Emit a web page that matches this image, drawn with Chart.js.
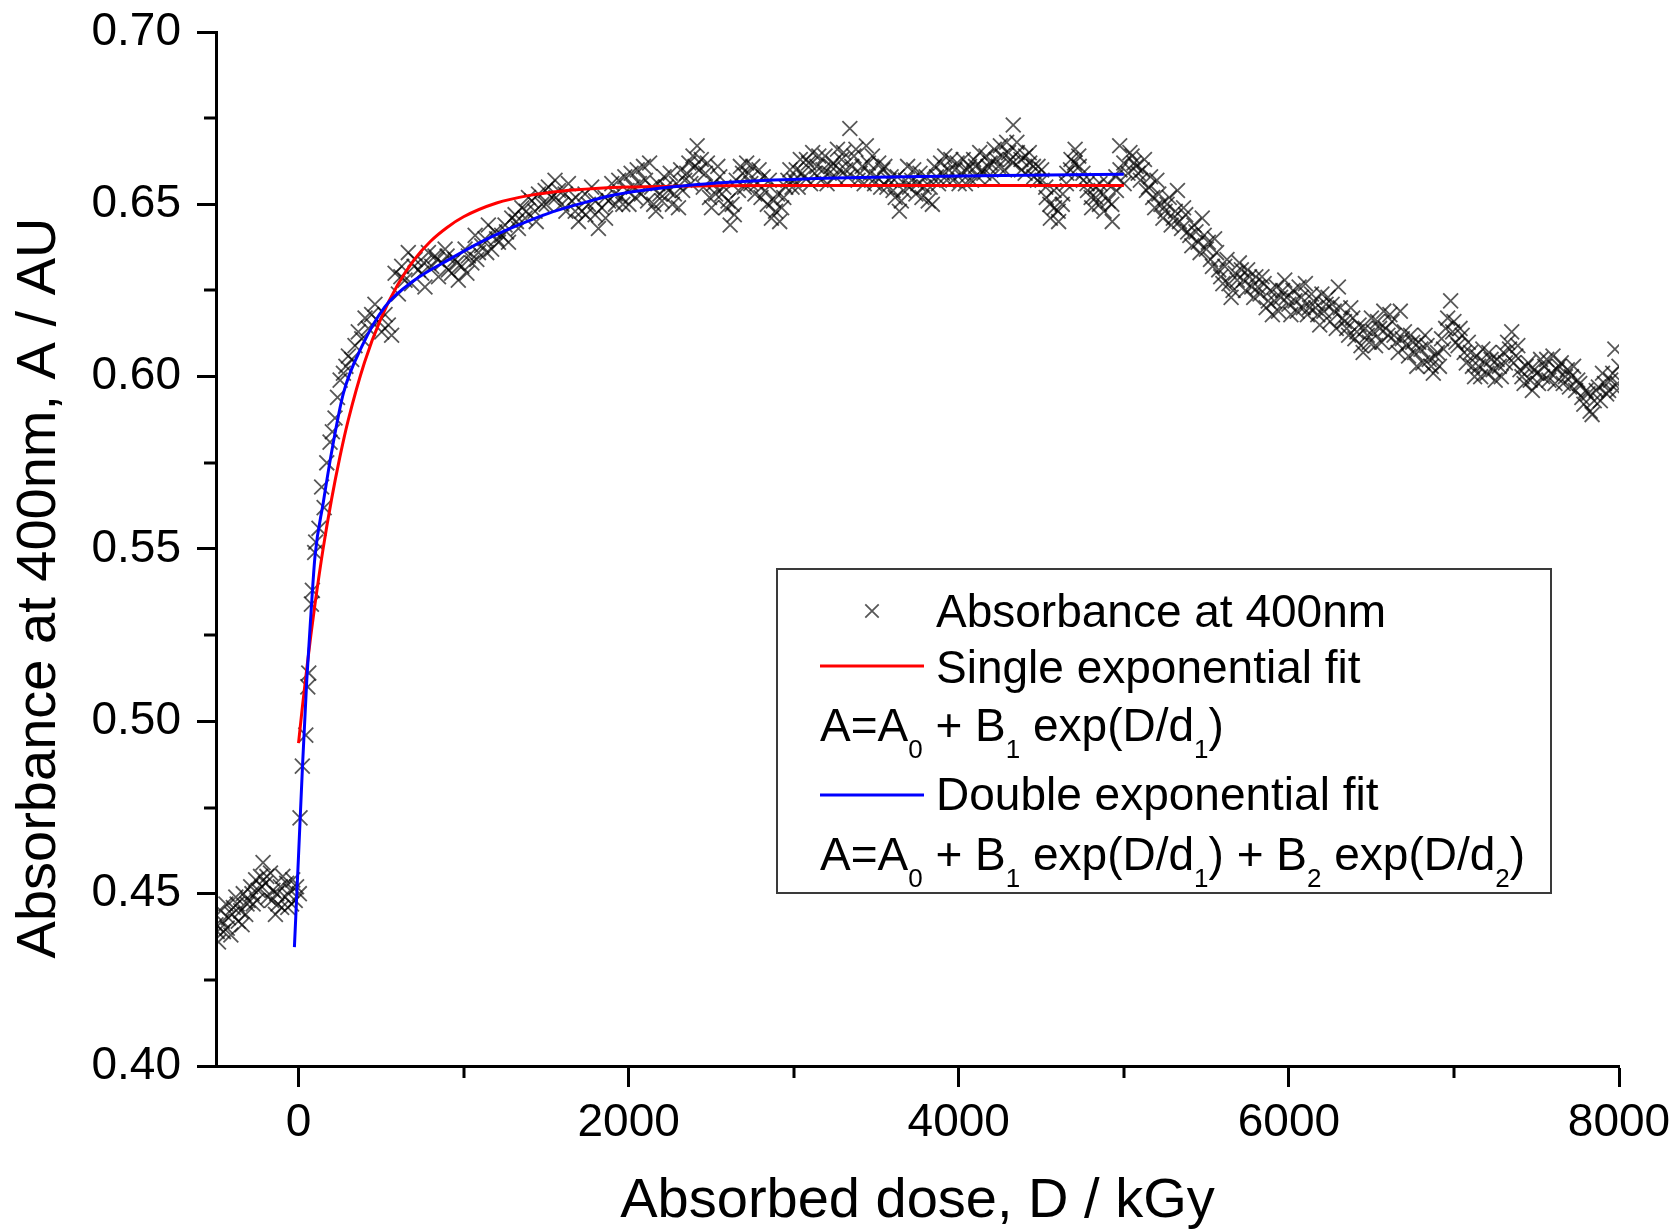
<!DOCTYPE html>
<html>
<head>
<meta charset="utf-8">
<script src="https://cdn.jsdelivr.net/npm/chart.js@4.4.1/dist/chart.umd.min.js"></script>
<style>
  html, body { margin: 0; padding: 0; background: #fff; }
  #wrap { width: 1671px; height: 1231px; position: relative; }
</style>
</head>
<body>
<div id="wrap"><canvas id="c"></canvas></div>
<script>
// ---------------- DATA ----------------
const xTitle = 'Absorbed dose, D / kGy';
const yTitle = 'Absorbance at 400nm, A / AU';
const seriesLabels = ['Absorbance at 400nm', 'Single exponential fit', 'Double exponential fit'];
const singleFitFormula = [['A=A',0],['0',1],[' + B',0],['1',1],[' exp(D/d',0],['1',1],[')',0]];
const doubleFitFormula = [['A=A',0],['0',1],[' + B',0],['1',1],[' exp(D/d',0],['1',1],[') + B',0],['2',1],[' exp(D/d',0],['2',1],[')',0]];
const xTickValues = [0, 1000, 2000, 3000, 4000, 5000, 6000, 7000, 8000];
const xMajorTicks = [0, 2000, 4000, 6000, 8000];
const yTickValues = [0.400, 0.425, 0.450, 0.475, 0.500, 0.525, 0.550, 0.575, 0.600, 0.625, 0.650, 0.675, 0.700];
const yMajorTicks = [0.40, 0.45, 0.50, 0.55, 0.60, 0.65, 0.70];

const absorbanceData = [
[-500,0.441],[-485,0.436],[-470,0.445],[-455,0.439],[-440,0.447],[-425,0.443],[-410,0.438],[-395,0.446],[-380,0.449],[-365,0.442],
[-350,0.445],[-335,0.450],[-320,0.444],[-305,0.448],[-290,0.452],[-275,0.447],[-260,0.454],[-245,0.451],[-230,0.455],[-215,0.459],
[-200,0.453],[-185,0.449],[-170,0.456],[-155,0.451],[-140,0.444],[-125,0.447],[-110,0.452],[-95,0.455],[-80,0.449],[-65,0.446],
[-50,0.451],[-35,0.454],[-20,0.448],
[5,0.450],[9,0.472],[23,0.487],[44,0.496],[56,0.510],[62,0.514],[78,0.534],[84,0.538],[98,0.549],[104,0.552],
[124,0.556],[140,0.568],[155,0.562],[171,0.575],[191,0.581],[205,0.584],[221,0.588],[236,0.594],[252,0.599],[272,0.601],
[287,0.603],[302,0.606],[322,0.605],[342,0.609],[362,0.613],[383,0.611],[403,0.617],[423,0.614],[443,0.618],[463,0.621],
[484,0.616],[504,0.613],[524,0.618],[544,0.615],[564,0.612],[585,0.630],[605,0.624],[625,0.632],[645,0.628],[665,0.636],
[685,0.627],[706,0.634],[726,0.631],[746,0.630],[766,0.626],[787,0.636],[807,0.632],[827,0.635],[848,0.629],[868,0.633],
[888,0.637],[908,0.631],[928,0.630],[948,0.634],[968,0.628],[989,0.632],[1009,0.637],[1029,0.635],[1050,0.633],[1070,0.641],
[1090,0.636],[1110,0.638],[1130,0.640],[1150,0.644],[1170,0.637],[1190,0.642],[1211,0.639],[1231,0.641],[1251,0.644],[1272,0.639],
[1292,0.646],[1312,0.647],[1332,0.643],[1353,0.649],[1373,0.646],[1393,0.652],[1413,0.651],[1433,0.648],[1454,0.653],[1474,0.650],
[1494,0.654],[1514,0.655],[1534,0.652],[1554,0.657],[1575,0.654],[1595,0.650],[1615,0.653],[1635,0.656],[1655,0.651],[1676,0.648],
[1696,0.645],[1716,0.648],[1736,0.653],[1756,0.650],[1776,0.655],[1797,0.647],[1817,0.643],[1837,0.649],[1857,0.652],[1878,0.651],
[1898,0.656],[1918,0.653],
[1940,0.657],[1965,0.650],[1990,0.654],[2015,0.659],[2040,0.652],[2065,0.656],[2090,0.661],[2115,0.651],[2140,0.655],[2165,0.648],
[2190,0.653],[2215,0.658],[2240,0.654],[2265,0.650],[2290,0.656],[2315,0.660],[2340,0.657],[2365,0.662],[2390,0.664],[2415,0.667],
[2440,0.663],[2465,0.659],[2490,0.652],[2515,0.656],[2540,0.661],[2565,0.653],[2590,0.649],[2615,0.644],[2640,0.647],[2665,0.654],
[2690,0.659],[2715,0.662],[2740,0.656],[2765,0.653],[2790,0.660],[2815,0.658],[2840,0.650],[2865,0.646],[2890,0.648],[2915,0.645],
[2940,0.652],[2965,0.657],[2990,0.655],[3015,0.660],[3040,0.663],[3065,0.658],[3090,0.662],[3115,0.665],[3140,0.661],[3165,0.657],
[3190,0.664],[3215,0.659],[3240,0.662],[3265,0.666],[3290,0.663],[3315,0.660],[3340,0.672],[3365,0.664],[3390,0.657],[3415,0.661],
[3440,0.667],[3465,0.659],[3490,0.656],[3515,0.662],[3540,0.660],[3565,0.655],[3590,0.658],[3615,0.652],[3640,0.648],[3665,0.654],
[3690,0.661],[3715,0.657],[3740,0.653],[3765,0.659],[3790,0.655],[3815,0.651],[3840,0.650],[3865,0.658],[3890,0.662],[3915,0.664],
[3940,0.660],[3965,0.657],[3990,0.662],[4015,0.659],[4040,0.656],[4065,0.661],[4090,0.663],[4115,0.658],[4140,0.660],[4165,0.664],
[4190,0.662],[4215,0.666],[4240,0.661],[4265,0.664],[4290,0.668],[4315,0.663],[4330,0.673],[4355,0.665],[4380,0.660],[4405,0.664],
[4430,0.662],[4455,0.658],[4480,0.661],[4505,0.657],[4530,0.652],[4555,0.646],[4580,0.649],[4605,0.645],[4630,0.653],[4655,0.659],
[4680,0.663],[4705,0.666],[4730,0.661],[4755,0.657],[4780,0.654],[4805,0.649],[4830,0.652],[4855,0.656],[4880,0.648],[4905,0.651],
[4930,0.645],[4955,0.654],[4975,0.667],[5000,0.662],[5025,0.659],
[5050,0.664],[5075,0.661],[5100,0.657],[5125,0.663],[5150,0.655],[5175,0.652],[5200,0.657],[5225,0.650],[5250,0.648],[5275,0.652],
[5300,0.646],[5325,0.654],[5350,0.643],[5375,0.647],[5400,0.641],[5425,0.644],[5450,0.639],[5475,0.646],[5500,0.637],[5525,0.634],
[5550,0.640],[5575,0.631],[5600,0.627],[5625,0.634],[5650,0.623],[5675,0.630],[5700,0.633],[5725,0.628],[5750,0.631],[5775,0.626],
[5800,0.629],[5825,0.624],[5850,0.627],[5875,0.622],[5900,0.618],[5925,0.626],[5950,0.623],[5975,0.628],[6000,0.621],[6025,0.625],
[6050,0.619],[6075,0.623],[6100,0.627],[6125,0.620],[6150,0.622],[6175,0.618],[6200,0.624],[6225,0.621],[6250,0.616],[6275,0.619],
[6300,0.626],[6325,0.617],[6350,0.614],[6375,0.620],[6400,0.611],[6425,0.615],[6450,0.607],[6475,0.612],[6500,0.617],[6525,0.609],
[6550,0.614],[6575,0.619],[6600,0.612],[6625,0.616],[6650,0.610],[6675,0.619],[6700,0.613],[6725,0.606],[6750,0.610],[6775,0.603],
[6800,0.608],[6825,0.612],[6850,0.605],[6875,0.601],[6900,0.607],[6925,0.611],[6950,0.614],[6980,0.622],[7000,0.616],[7025,0.609],
[7050,0.612],[7075,0.604],[7100,0.607],[7125,0.600],[7150,0.603],[7175,0.608],[7200,0.601],[7225,0.605],[7250,0.599],[7275,0.603],
[7300,0.607],[7325,0.610],[7350,0.613],[7375,0.606],[7400,0.602],[7425,0.598],[7450,0.604],[7475,0.596],[7500,0.601],[7525,0.605],
[7550,0.603],[7575,0.599],[7600,0.606],[7625,0.602],[7650,0.604],[7675,0.600],[7700,0.597],[7725,0.603],[7750,0.599],[7775,0.594],
[7800,0.596],[7825,0.590],[7850,0.593],[7875,0.597],[7900,0.601],[7925,0.595],[7950,0.599],[7975,0.608],[7990,0.598],[8000,0.603]
];

// second, interleaved set of readings (the cloud is denser than one point per 25 kGy)
const absorbanceDataExtra = [
[-492,0.439],[-462,0.442],[-432,0.440],[-402,0.444],[-372,0.447],[-342,0.441],[-312,0.447],[-282,0.450],[-252,0.448],[-222,0.452],
[-192,0.455],[-162,0.448],[-132,0.450],[-102,0.446],[-72,0.453],[-42,0.447],[-12,0.452],
[620,0.629],[700,0.632],[760,0.633],[840,0.634],[900,0.635],[960,0.633],[1020,0.630],[1080,0.634],[1140,0.636],[1200,0.640],
[1260,0.642],[1320,0.645],[1380,0.648],[1440,0.645],[1500,0.650],[1560,0.652],[1620,0.648],[1680,0.652],[1740,0.647],[1800,0.651],
[1860,0.646],[1920,0.650],
[1952,0.652],[1977,0.658],[2002,0.650],[2027,0.655],[2052,0.660],[2077,0.653],[2102,0.657],[2127,0.662],[2152,0.650],[2177,0.656],
[2202,0.651],[2227,0.655],[2252,0.659],[2277,0.653],[2302,0.649],[2327,0.654],[2352,0.659],[2377,0.656],[2402,0.661],[2427,0.660],
[2452,0.655],[2477,0.662],[2502,0.649],[2527,0.653],[2552,0.658],[2577,0.655],[2602,0.651],[2627,0.650],[2652,0.657],[2677,0.661],
[2702,0.655],[2727,0.659],[2752,0.661],[2777,0.656],[2802,0.652],[2827,0.654],[2852,0.657],[2877,0.651],[2902,0.653],[2927,0.649],
[2952,0.655],[2977,0.660],[3002,0.657],[3027,0.655],[3052,0.659],[3077,0.663],[3102,0.656],[3127,0.659],[3152,0.664],[3177,0.660],
[3202,0.656],[3227,0.661],[3252,0.658],[3277,0.660],[3302,0.665],[3327,0.658],[3352,0.661],[3377,0.666],[3402,0.659],[3427,0.656],
[3452,0.662],[3477,0.664],[3502,0.658],[3527,0.655],[3552,0.661],[3577,0.657],[3602,0.654],[3627,0.658],[3652,0.651],[3677,0.657],
[3702,0.655],[3727,0.660],[3752,0.656],[3777,0.652],[3802,0.658],[3827,0.655],[3852,0.661],[3877,0.656],[3902,0.659],[3927,0.657],
[3952,0.663],[3977,0.660],[4002,0.656],[4027,0.663],[4052,0.660],[4077,0.657],[4102,0.661],[4127,0.665],[4152,0.659],[4177,0.661],
[4202,0.658],[4227,0.663],[4252,0.667],[4277,0.660],[4302,0.665],[4327,0.662],[4352,0.668],[4377,0.663],[4402,0.659],[4427,0.665],
[4452,0.661],[4477,0.657],[4502,0.660],[4527,0.655],[4552,0.650],[4577,0.654],[4602,0.648],[4627,0.650],[4652,0.656],[4677,0.660],
[4702,0.662],[4727,0.664],[4752,0.659],[4777,0.656],[4802,0.652],[4827,0.655],[4852,0.650],[4877,0.653],[4902,0.656],[4927,0.650],
[4952,0.658],[4977,0.660],[5002,0.656],[5037,0.665],
[5062,0.662],[5087,0.659],[5112,0.660],[5137,0.654],[5162,0.658],[5187,0.649],[5212,0.653],[5237,0.646],[5262,0.650],[5287,0.644],
[5312,0.648],[5337,0.645],[5362,0.649],[5387,0.642],[5412,0.638],[5437,0.642],[5462,0.636],[5487,0.641],[5512,0.639],[5537,0.632],
[5562,0.636],[5587,0.629],[5612,0.632],[5637,0.627],[5662,0.625],[5687,0.628],[5712,0.631],[5737,0.625],[5762,0.629],[5787,0.623],
[5812,0.626],[5837,0.629],[5862,0.620],[5887,0.625],[5912,0.622],[5937,0.619],[5962,0.625],[5987,0.623],[6012,0.618],[6037,0.622],
[6062,0.626],[6087,0.620],[6112,0.618],[6137,0.624],[6162,0.620],[6187,0.615],[6212,0.619],[6237,0.623],[6262,0.621],[6287,0.614],
[6312,0.620],[6337,0.616],[6362,0.612],[6387,0.617],[6412,0.613],[6437,0.609],[6462,0.614],[6487,0.610],[6512,0.613],[6537,0.616],
[6562,0.610],[6587,0.614],[6612,0.618],[6637,0.612],[6662,0.607],[6687,0.611],[6712,0.609],[6737,0.612],[6762,0.607],[6787,0.610],
[6812,0.604],[6837,0.609],[6862,0.603],[6887,0.606],[6912,0.603],[6937,0.608],[6962,0.617],[6992,0.613],[7012,0.610],[7037,0.614],
[7062,0.607],[7087,0.610],[7112,0.603],[7137,0.606],[7162,0.600],[7187,0.604],[7212,0.607],[7237,0.602],[7262,0.605],[7287,0.600],
[7312,0.604],[7337,0.608],[7362,0.604],[7387,0.609],[7412,0.600],[7437,0.603],[7462,0.599],[7487,0.602],[7512,0.598],[7537,0.600],
[7562,0.605],[7587,0.601],[7612,0.598],[7637,0.603],[7662,0.598],[7687,0.602],[7712,0.600],[7737,0.596],[7762,0.598],[7787,0.592],
[7812,0.595],[7837,0.589],[7862,0.596],[7887,0.593],[7912,0.598],[7937,0.596],[7962,0.601],[7987,0.596]
];

const singleFitData = [
[0,0.4937],[25,0.5049],[50,0.5153],[75,0.5251],[100,0.5341],[150,0.5504],[200,0.5644],[250,0.5766],[300,0.5872],
[400,0.6042],[500,0.6170],[600,0.6266],[700,0.6339],[800,0.6393],[900,0.6433],[1000,0.6464],[1200,0.6504],[1400,0.6526],
[1600,0.6539],[1800,0.6546],[2000,0.6550],[2500,0.6554],[3000,0.6555],[4000,0.6555],[5000,0.6555]
];

const doubleFitData = [
[-25,0.4345],[0,0.461],[25,0.488],[50,0.512],[75,0.531],[100,0.548],[150,0.5635],[200,0.578],[272,0.5952],[383,0.6087],
[524,0.6203],[706,0.6281],[908,0.6339],[1110,0.6392],[1312,0.6436],[1514,0.6474],[1716,0.6503],[1918,0.6528],[2400,0.6557],
[3136,0.6575],[4000,0.6582],[5000,0.6587]
];

// ---------------- STYLE / LAYOUT ----------------
const FONT = "'Liberation Sans', Arial, Helvetica, sans-serif";
const toXY = arr => arr.map(p => ({x: p[0], y: p[1]}));
const isMajorX = v => xMajorTicks.includes(Math.round(v));
const yKey = v => Math.round(v * 1000);
const isMajorY = v => yMajorTicks.some(t => yKey(t) === yKey(v));

const minorTicksPlugin = {
  id: 'minorTicks',
  afterDraw(chart) {
    const ctx = chart.ctx;
    const xs = chart.scales.x, ys = chart.scales.y;
    ctx.save();
    ctx.strokeStyle = '#000';
    ctx.lineWidth = 3;
    ctx.beginPath();
    xs.ticks.forEach(t => {
      if (!isMajorX(t.value)) {
        const px = Math.round(xs.getPixelForValue(t.value));
        ctx.moveTo(px, xs.top);
        ctx.lineTo(px, xs.top + 12);
      }
    });
    ys.ticks.forEach(t => {
      if (!isMajorY(t.value)) {
        const py = Math.round(ys.getPixelForValue(t.value));
        ctx.moveTo(ys.right, py);
        ctx.lineTo(ys.right - 12, py);
      }
    });
    ctx.stroke();
    ctx.restore();
  }
};

const yTitlePlugin = {
  id: 'yTitle',
  afterDraw(chart) {
    const ctx = chart.ctx;
    ctx.save();
    ctx.translate(40, 588);
    ctx.rotate(-Math.PI / 2);
    ctx.font = '56px ' + FONT;
    ctx.fillStyle = '#000';
    ctx.textAlign = 'center';
    ctx.textBaseline = 'middle';
    ctx.fillText(yTitle, 0, 0);
    ctx.restore();
  }
};

const LEG = {left: 777, top: 569, right: 1551, bottom: 893, textX: 936, lineX0: 820, lineX1: 924, formulaX: 820,
  rows: [627, 683, 741, 810, 870], markY: 611, lineY1: 666, lineY2: 795, font: 46, subFont: 26, subDrop: 17};

function drawRich(ctx, segs, x, y) {
  segs.forEach(([txt, sub]) => {
    ctx.font = (sub ? LEG.subFont : LEG.font) + 'px ' + FONT;
    ctx.fillText(txt, x, sub ? y + LEG.subDrop : y);
    x += ctx.measureText(txt).width;
  });
}

const legendPlugin = {
  id: 'customLegend',
  afterDraw(chart) {
    const ctx = chart.ctx;
    const ds = chart.data.datasets;
    ctx.save();
    ctx.fillStyle = '#fff';
    ctx.fillRect(LEG.left, LEG.top, LEG.right - LEG.left, LEG.bottom - LEG.top);
    ctx.strokeStyle = '#3a3a3a';
    ctx.lineWidth = 2;
    ctx.strokeRect(LEG.left, LEG.top, LEG.right - LEG.left, LEG.bottom - LEG.top);
    ctx.textBaseline = 'alphabetic';
    ctx.textAlign = 'left';
    ctx.fillStyle = '#000';
    ctx.strokeStyle = ds[0].pointBorderColor;
    ctx.lineWidth = ds[0].pointBorderWidth;
    Chart.helpers.drawPoint(ctx, {pointStyle: 'crossRot', radius: 9.5, borderWidth: ds[0].pointBorderWidth, rotation: 0},
      (LEG.lineX0 + LEG.lineX1) / 2, LEG.markY);
    ctx.font = LEG.font + 'px ' + FONT;
    ctx.fillText(ds[0].label, LEG.textX, LEG.rows[0]);
    ctx.strokeStyle = ds[1].borderColor; ctx.lineWidth = ds[1].borderWidth;
    ctx.beginPath(); ctx.moveTo(LEG.lineX0, LEG.lineY1); ctx.lineTo(LEG.lineX1, LEG.lineY1); ctx.stroke();
    ctx.fillText(ds[1].label, LEG.textX, LEG.rows[1]);
    drawRich(ctx, singleFitFormula, LEG.formulaX, LEG.rows[2]);
    ctx.font = LEG.font + 'px ' + FONT;
    ctx.strokeStyle = ds[2].borderColor; ctx.lineWidth = ds[2].borderWidth;
    ctx.beginPath(); ctx.moveTo(LEG.lineX0, LEG.lineY2); ctx.lineTo(LEG.lineX1, LEG.lineY2); ctx.stroke();
    ctx.fillText(ds[2].label, LEG.textX, LEG.rows[3]);
    drawRich(ctx, doubleFitFormula, LEG.formulaX, LEG.rows[4]);
    ctx.restore();
  }
};

const tickFont = {family: FONT, size: 46};

new Chart(document.getElementById('c'), {
  type: 'scatter',
  data: {
    datasets: [
      {
        label: seriesLabels[0],
        data: toXY(absorbanceData.concat(absorbanceDataExtra)),
        pointStyle: 'crossRot',
        pointRadius: 10.5,
        pointBorderWidth: 1.8,
        pointBorderColor: 'rgba(0,0,0,0.66)',
        pointBackgroundColor: 'rgba(0,0,0,0)',
        showLine: false,
        clip: 0,
        order: 3
      },
      {
        label: seriesLabels[1],
        data: toXY(singleFitData),
        showLine: true,
        borderColor: '#ff0000',
        borderWidth: 3,
        pointRadius: 0,
        cubicInterpolationMode: 'monotone',
        clip: 0,
        order: 2
      },
      {
        label: seriesLabels[2],
        data: toXY(doubleFitData),
        showLine: true,
        borderColor: '#0000ff',
        borderWidth: 3,
        pointRadius: 0,
        cubicInterpolationMode: 'monotone',
        clip: 0,
        order: 1
      }
    ]
  },
  options: {
    responsive: true,
    maintainAspectRatio: false,
    animation: false,
    events: [],
    layout: {padding: {top: 32, right: 52, bottom: 0, left: 0}},
    plugins: {legend: {display: false}, tooltip: {enabled: false}},
    scales: {
      x: {
        type: 'linear',
        position: 'bottom',
        min: -500,
        max: 8000,
        afterFit: s => { s.height = 165; s.paddingLeft = 0; s.paddingRight = 0; s.paddingTop = 0; s.paddingBottom = 0; },
        afterBuildTicks: s => { s.ticks = xTickValues.map(v => ({value: v})); },
        ticks: {
          autoSkip: false,
          maxRotation: 0,
          padding: 9,
          color: '#000',
          font: tickFont,
          callback: v => isMajorX(v) ? String(Math.round(v)) : ''
        },
        grid: {
          display: true,
          drawOnChartArea: false,
          drawTicks: true,
          tickLength: 21,
          tickWidth: 3,
          tickColor: c => (c.tick && isMajorX(c.tick.value)) ? '#000' : 'rgba(0,0,0,0)'
        },
        border: {display: true, color: '#000', width: 3},
        title: {
          display: true,
          text: xTitle,
          color: '#000',
          font: {family: FONT, size: 56, lineHeight: 1},
          padding: {top: 0, bottom: 1}
        }
      },
      y: {
        type: 'linear',
        position: 'left',
        min: 0.40,
        max: 0.70,
        afterFit: s => { s.width = 216; s.paddingLeft = 0; s.paddingRight = 0; s.paddingTop = 0; s.paddingBottom = 0; },
        afterBuildTicks: s => { s.ticks = yTickValues.map(v => ({value: v})); },
        ticks: {
          autoSkip: false,
          padding: 16,
          color: '#000',
          font: tickFont,
          callback: v => {
            const m = yMajorTicks.find(t => yKey(t) === yKey(v));
            return m !== undefined ? m.toFixed(2) : '';
          }
        },
        grid: {
          display: true,
          drawOnChartArea: false,
          drawTicks: true,
          tickLength: 19,
          tickWidth: 3,
          tickColor: c => (c.tick && isMajorY(c.tick.value)) ? '#000' : 'rgba(0,0,0,0)'
        },
        border: {display: true, color: '#000', width: 3},
        title: {display: false, text: yTitle}
      }
    }
  },
  plugins: [minorTicksPlugin, yTitlePlugin, legendPlugin]
});
</script>
</body>
</html>
